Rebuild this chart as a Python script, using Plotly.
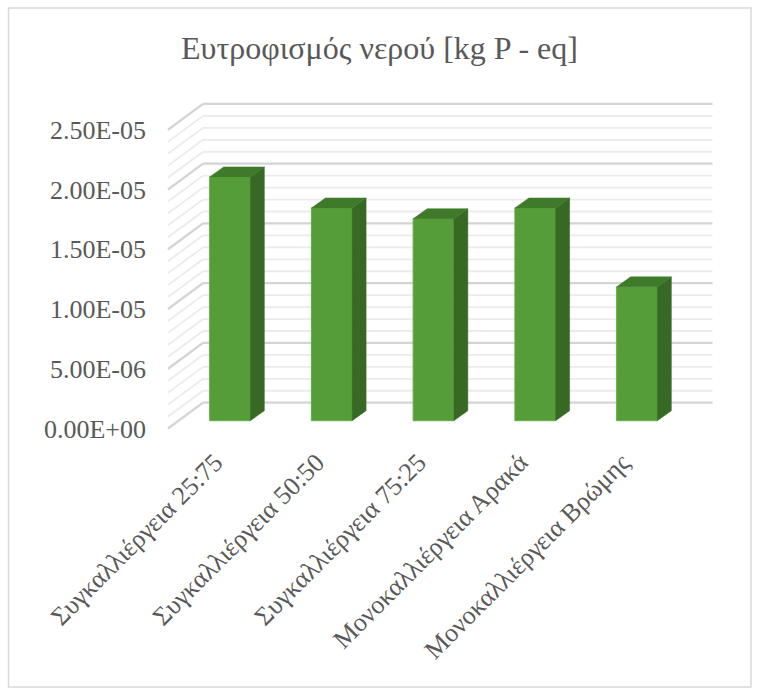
import plotly.graph_objects as go

# ---- data ----
categories = ["Συγκαλλιέργεια 25:75", "Συγκαλλιέργεια 50:50", "Συγκαλλιέργεια 75:25",
              "Μονοκαλλιέργεια Αρακά", "Μονοκαλλιέργεια Βρώμης"]
values = [2.04e-05, 1.78e-05, 1.69e-05, 1.78e-05, 1.12e-05]
y_tick_vals = [0, 5e-06, 1e-05, 1.5e-05, 2e-05, 2.5e-05]
y_tick_text = ["0.00E+00", "5.00E-06", "1.00E-05", "1.50E-05", "2.00E-05", "2.50E-05"]
minor_step = 1e-06
title_text = "Ευτροφισμός νερού [kg P - eq]"

# ---- geometry / style (pseudo-3D) ----
W, H = 759, 690
PX0, PXU = 230.0, 101.75        # pixel of category 0, pixels per category
PY0, PYU = 428.5, 11.95e6       # pixel of value 0 (front plane), pixels per unit
dom_x = (150, 729)
dom_y = (90, 441)
xr = [(dom_x[0] - PX0) / PXU, (dom_x[1] - PX0) / PXU]
yr = [(PY0 - dom_y[1]) / PYU, (PY0 - dom_y[0]) / PYU]

WALL_DY = 25.8 / PYU
WALL_X0 = (203 - PX0) / PXU
WALL_X1 = (712.5 - PX0) / PXU
FRONT_X = (168 - PX0) / PXU
BAR_BASE = 7.8 / PYU
BAR_W = 40.7 / PXU
DX = 14 / PXU
DY = 10 / PYU
LABEL_SHIFT = 15 / PXU          # category labels sit slightly left of bar centres

C_FRONT = "#559D39"
C_TOP = "#3E7A2A"
C_SIDE = "#376925"
TXT = "#595959"
FONT = "Liberation Serif"

xpos = list(range(len(categories)))
label_pos = [x - LABEL_SHIFT for x in xpos]

fig = go.Figure()

# back wall gridlines + side-wall diagonals
shapes = []
nlev = int(round(max(y_tick_vals) / minor_step))
for i in range(nlev + 1):
    v = i * minor_step
    major = (i % 5 == 0)
    col = "#d4d4d4" if major else "#ebebeb"
    wdt = 2.2 if major else 1.8
    shapes.append(dict(type="line", xref="x", yref="y", layer="below",
                       x0=WALL_X0, x1=WALL_X1, y0=v + WALL_DY, y1=v + WALL_DY,
                       line=dict(color=col, width=wdt)))
    shapes.append(dict(type="line", xref="x", yref="y", layer="below",
                       x0=FRONT_X, x1=WALL_X0, y0=v, y1=v + WALL_DY,
                       line=dict(color=col, width=wdt)))

# chart border
shapes.append(dict(type="rect", xref="paper", yref="paper",
                   x0=8.5 / W, x1=751 / W, y0=1 - 687 / H, y1=1 - 8 / H,
                   line=dict(color="#d9d9d9", width=1.5), fillcolor="rgba(0,0,0,0)",
                   layer="below"))

# front faces
fig.add_trace(go.Bar(x=xpos, y=values, base=BAR_BASE, width=BAR_W,
                     marker=dict(color=C_FRONT, line=dict(color="#62AD45", width=1)),
                     showlegend=False, hoverinfo="skip"))

# side and top faces
for xc, v in zip(xpos, values):
    r = xc + BAR_W / 2
    l = xc - BAR_W / 2
    b = BAR_BASE
    t = BAR_BASE + v
    fig.add_trace(go.Scatter(x=[r, r + DX, r + DX, r, r], y=[b, b + DY, t + DY, t, b],
                             fill="toself", fillcolor=C_SIDE, mode="lines",
                             line=dict(color=C_SIDE, width=0.5),
                             showlegend=False, hoverinfo="skip"))
    fig.add_trace(go.Scatter(x=[l, r, r + DX, l + DX, l], y=[t, t, t + DY, t + DY, t],
                             fill="toself", fillcolor=C_TOP, mode="lines",
                             line=dict(color=C_TOP, width=0.5),
                             showlegend=False, hoverinfo="skip"))

fig.update_layout(
    width=W, height=H,
    margin=dict(l=0, r=0, t=0, b=0),
    font=dict(family=FONT, color=TXT),
    paper_bgcolor="white", plot_bgcolor="rgba(0,0,0,0)",
    shapes=shapes,
    showlegend=False,
    title=dict(text=title_text, x=0.5, xanchor="center", xref="paper",
               y=1 - 48 / H, yanchor="middle", yref="container",
               font=dict(family=FONT, size=32, color=TXT)),
    xaxis=dict(domain=[dom_x[0] / W, dom_x[1] / W], range=xr, showgrid=False,
               zeroline=False, showline=False, ticks="", tickvals=label_pos,
               ticktext=categories, tickangle=-45, automargin=False,
               tickfont=dict(family=FONT, size=26, color=TXT)),
    yaxis=dict(domain=[1 - dom_y[1] / H, 1 - dom_y[0] / H], range=yr, showgrid=False,
               zeroline=False, showline=False, ticks="", tickvals=y_tick_vals,
               ticktext=y_tick_text, automargin=False, ticklabelstandoff=3,
               tickfont=dict(family=FONT, size=26, color=TXT)),
)

fig.write_html("out.html")
